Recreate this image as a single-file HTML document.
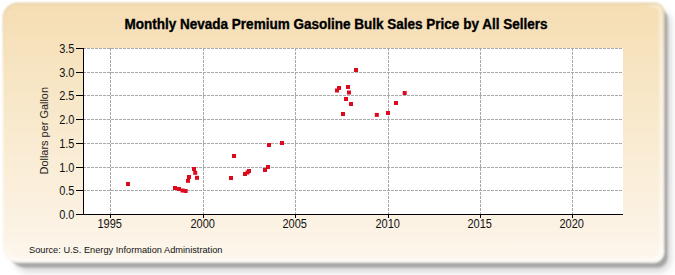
<!DOCTYPE html>
<html><head><meta charset="utf-8"><style>
html,body{margin:0;padding:0;background:#fff;width:675px;height:275px;overflow:hidden}
svg{display:block;font-family:"Liberation Sans",sans-serif}
</style></head><body>
<svg width="675" height="275" viewBox="0 0 675 275">
<defs>
<linearGradient id="bg" x1="0" y1="0" x2="0" y2="1">
<stop offset="0" stop-color="#f5deb3"/>
<stop offset="1" stop-color="#fdf6ec"/>
</linearGradient>
<linearGradient id="hr" gradientUnits="userSpaceOnUse" x1="3" y1="0" x2="664" y2="0"><stop offset="0" stop-color="#fff" stop-opacity="0"/><stop offset="0.97" stop-color="#fff" stop-opacity="0"/><stop offset="1" stop-color="#fff" stop-opacity="0.5"/></linearGradient>
<linearGradient id="hb" gradientUnits="userSpaceOnUse" x1="0" y1="3" x2="0" y2="262"><stop offset="0" stop-color="#fff" stop-opacity="0"/><stop offset="0.93" stop-color="#fff" stop-opacity="0"/><stop offset="1" stop-color="#fff" stop-opacity="0.5"/></linearGradient>
<linearGradient id="ht" gradientUnits="userSpaceOnUse" x1="0" y1="3" x2="0" y2="262"><stop offset="0" stop-color="#d8bf90" stop-opacity="0.6"/><stop offset="0.3" stop-color="#d8bf90" stop-opacity="0"/><stop offset="1" stop-color="#d8bf90" stop-opacity="0"/></linearGradient>
<filter id="sh" x="-10%" y="-10%" width="120%" height="130%"><feGaussianBlur stdDeviation="3.5"/></filter><filter id="sh2" x="-10%" y="-10%" width="120%" height="130%"><feGaussianBlur stdDeviation="1.3"/></filter><filter id="bl" x="-10%" y="-10%" width="120%" height="130%"><feGaussianBlur stdDeviation="1"/></filter>
</defs>
<path d="M29,12 L659,12 A12,12 0 0 1 671,24 L671,258 A14,14 0 0 1 657,272 L29,272 A15,15 0 0 1 14,257 L14,27 A15,15 0 0 1 29,12 Z" fill="#8a8a8a" opacity="0.35" filter="url(#sh)"/>
<path d="M25,9 L658.5,9 A9,9 0 0 1 667.5,18 L667.5,257.5 A10,10 0 0 1 657.5,267.5 L25,267.5 A15,15 0 0 1 10,252.5 L10,24 A15,15 0 0 1 25,9 Z" fill="#a0a0a0" opacity="0.9" filter="url(#sh2)"/>
<path d="M18,3 L655,3 A9,9 0 0 1 664,12 L664,252.5 A10,10 0 0 1 654,262.5 L18,262.5 A15,15 0 0 1 3,247.5 L3,18 A15,15 0 0 1 18,3 Z" fill="url(#bg)" filter="url(#bl)"/>
<path d="M18.5,5.5 L654.5,5.5 A7,7 0 0 1 661.5,12.5 L661.5,252 A8,8 0 0 1 653.5,260 L18.5,260 A13,13 0 0 1 5.5,247 L5.5,18.5 A13,13 0 0 1 18.5,5.5 Z" fill="none" stroke="url(#hr)" stroke-width="5" filter="url(#bl)"/>
<path d="M18.5,5.5 L654.5,5.5 A7,7 0 0 1 661.5,12.5 L661.5,252 A8,8 0 0 1 653.5,260 L18.5,260 A13,13 0 0 1 5.5,247 L5.5,18.5 A13,13 0 0 1 18.5,5.5 Z" fill="none" stroke="url(#hb)" stroke-width="5" filter="url(#bl)"/>
<path d="M18.5,3.5 L654.5,3.5 A9,9 0 0 1 663.5,12.5 L663.5,252 A10,10 0 0 1 653.5,262 L18.5,262 A15,15 0 0 1 3.5,247 L3.5,18.5 A15,15 0 0 1 18.5,3.5 Z" fill="none" stroke="url(#ht)" stroke-width="1.5" filter="url(#bl)"/>
<rect x="83" y="48" width="540" height="166" fill="#fff"/>
<g stroke="#a8a8a8" stroke-width="1" stroke-dasharray="3,1" shape-rendering="crispEdges">
<line x1="83" y1="190.5" x2="623" y2="190.5"/><line x1="83" y1="167.5" x2="623" y2="167.5"/><line x1="83" y1="143.5" x2="623" y2="143.5"/><line x1="83" y1="119.5" x2="623" y2="119.5"/><line x1="83" y1="95.5" x2="623" y2="95.5"/><line x1="83" y1="72.5" x2="623" y2="72.5"/><line x1="83" y1="48.5" x2="623" y2="48.5"/><line x1="110.5" y1="48" x2="110.5" y2="214"/><line x1="203.5" y1="48" x2="203.5" y2="214"/><line x1="295.5" y1="48" x2="295.5" y2="214"/><line x1="388.5" y1="48" x2="388.5" y2="214"/><line x1="480.5" y1="48" x2="480.5" y2="214"/><line x1="572.5" y1="48" x2="572.5" y2="214"/>
</g>
<g stroke="#000" stroke-width="1" shape-rendering="crispEdges">
<line x1="83.5" y1="48" x2="83.5" y2="215"/>
<line x1="83" y1="214.5" x2="623" y2="214.5"/>
<line x1="76" y1="214.5" x2="84" y2="214.5"/><line x1="76" y1="190.5" x2="84" y2="190.5"/><line x1="76" y1="167.5" x2="84" y2="167.5"/><line x1="76" y1="143.5" x2="84" y2="143.5"/><line x1="76" y1="119.5" x2="84" y2="119.5"/><line x1="76" y1="95.5" x2="84" y2="95.5"/><line x1="76" y1="72.5" x2="84" y2="72.5"/><line x1="76" y1="48.5" x2="84" y2="48.5"/><line x1="110.5" y1="214" x2="110.5" y2="218"/><line x1="203.5" y1="214" x2="203.5" y2="218"/><line x1="295.5" y1="214" x2="295.5" y2="218"/><line x1="388.5" y1="214" x2="388.5" y2="218"/><line x1="480.5" y1="214" x2="480.5" y2="218"/><line x1="572.5" y1="214" x2="572.5" y2="218"/>
</g>
<g fill="#dc0a1e">
<rect x="126.0" y="182.0" width="4" height="4"/><rect x="173.0" y="186.0" width="4" height="4"/><rect x="177.0" y="187.0" width="4" height="4"/><rect x="180.5" y="188.5" width="4" height="4"/><rect x="183.6" y="189.0" width="4" height="4"/><rect x="186.0" y="178.8" width="4" height="4"/><rect x="187.0" y="175.0" width="4" height="4"/><rect x="192.0" y="167.0" width="4" height="4"/><rect x="193.2" y="170.8" width="4" height="4"/><rect x="195.0" y="175.8" width="4" height="4"/><rect x="229.0" y="176.0" width="4" height="4"/><rect x="232.0" y="154.0" width="4" height="4"/><rect x="243.0" y="172.0" width="4" height="4"/><rect x="245.5" y="170.5" width="4" height="4"/><rect x="247.0" y="169.0" width="4" height="4"/><rect x="263.0" y="168.0" width="4" height="4"/><rect x="266.0" y="165.0" width="4" height="4"/><rect x="267.0" y="143.0" width="4" height="4"/><rect x="280.0" y="141.0" width="4" height="4"/><rect x="335.0" y="88.5" width="4" height="4"/><rect x="337.0" y="86.0" width="4" height="4"/><rect x="341.0" y="112.0" width="4" height="4"/><rect x="344.0" y="97.0" width="4" height="4"/><rect x="346.0" y="85.0" width="4" height="4"/><rect x="347.0" y="90.5" width="4" height="4"/><rect x="349.0" y="102.0" width="4" height="4"/><rect x="354.0" y="68.0" width="4" height="4"/><rect x="374.8" y="112.9" width="4" height="4"/><rect x="386.0" y="111.0" width="4" height="4"/><rect x="394.0" y="101.0" width="4" height="4"/><rect x="402.7" y="91.0" width="4" height="4"/>
</g>
<g font-size="12" fill="#111">
<text x="74.5" y="218.5" text-anchor="end" textLength="15.3" lengthAdjust="spacingAndGlyphs">0.0</text><text x="74.5" y="194.5" text-anchor="end" textLength="15.3" lengthAdjust="spacingAndGlyphs">0.5</text><text x="74.5" y="171.5" text-anchor="end" textLength="15.3" lengthAdjust="spacingAndGlyphs">1.0</text><text x="74.5" y="147.5" text-anchor="end" textLength="15.3" lengthAdjust="spacingAndGlyphs">1.5</text><text x="74.5" y="123.5" text-anchor="end" textLength="15.3" lengthAdjust="spacingAndGlyphs">2.0</text><text x="74.5" y="99.5" text-anchor="end" textLength="15.3" lengthAdjust="spacingAndGlyphs">2.5</text><text x="74.5" y="76.5" text-anchor="end" textLength="15.3" lengthAdjust="spacingAndGlyphs">3.0</text><text x="74.5" y="52.5" text-anchor="end" textLength="15.3" lengthAdjust="spacingAndGlyphs">3.5</text><text x="109.7" y="227.5" text-anchor="middle" textLength="24.5" lengthAdjust="spacingAndGlyphs">1995</text><text x="202.7" y="227.5" text-anchor="middle" textLength="24.5" lengthAdjust="spacingAndGlyphs">2000</text><text x="294.7" y="227.5" text-anchor="middle" textLength="24.5" lengthAdjust="spacingAndGlyphs">2005</text><text x="387.7" y="227.5" text-anchor="middle" textLength="24.5" lengthAdjust="spacingAndGlyphs">2010</text><text x="479.7" y="227.5" text-anchor="middle" textLength="24.5" lengthAdjust="spacingAndGlyphs">2015</text><text x="571.7" y="227.5" text-anchor="middle" textLength="24.5" lengthAdjust="spacingAndGlyphs">2020</text>
</g>
<text x="336" y="28.6" text-anchor="middle" font-size="14" font-weight="bold" fill="#000" stroke="#000" stroke-width="0.35" textLength="423" lengthAdjust="spacingAndGlyphs">Monthly Nevada Premium Gasoline Bulk Sales Price by All Sellers</text>
<text x="29" y="253" font-size="9.4" fill="#111" textLength="193.5" lengthAdjust="spacingAndGlyphs">Source: U.S. Energy Information Administration</text>
<text transform="translate(48.2,174.5) rotate(-90)" font-size="10" fill="#222" textLength="87.5" lengthAdjust="spacingAndGlyphs">Dollars per Gallon</text>
</svg>
</body></html>
